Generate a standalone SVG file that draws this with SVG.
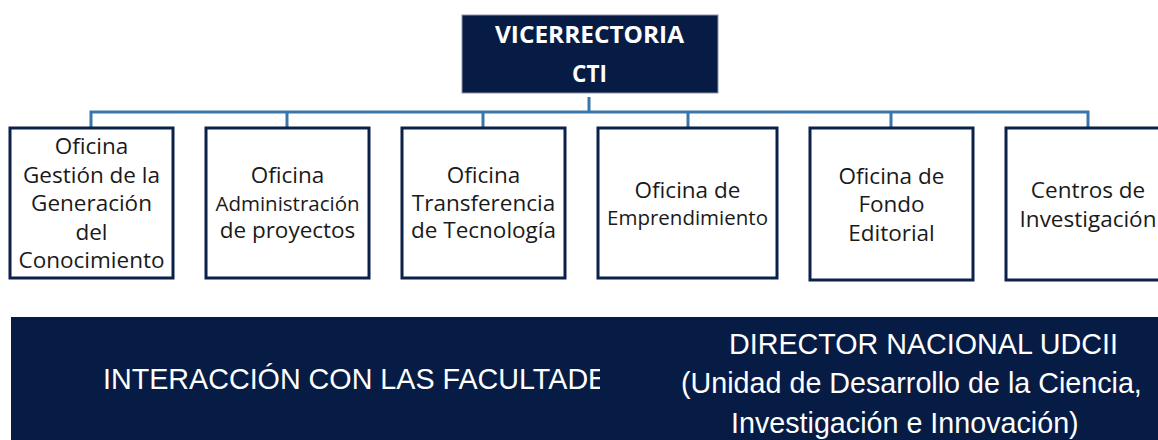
<svg xmlns="http://www.w3.org/2000/svg" width="1158" height="440" viewBox="0 0 1158 440">
<style>
.box{fill:#ffffff;stroke:#0b2149;stroke-width:3}
.t{font-family:"Open Sans","Noto Sans",sans-serif;font-size:22.5px;fill:#1a1a1a;text-anchor:middle}
.s{font-size:20.5px}
.hd{font-family:"Open Sans","Noto Sans",sans-serif;font-weight:bold;font-size:22.5px;fill:#ffffff;text-anchor:middle}
.b{font-family:"Liberation Sans",Arial,sans-serif;font-size:28.7px;fill:#ffffff}
.c{fill:none;stroke:#3a76ab;stroke-width:3}
</style>
<defs>
<clipPath id="clipL"><rect x="0" y="300" width="600" height="140"/></clipPath>
</defs>
<rect width="1158" height="440" fill="#ffffff"/>
<g id="connectors">
<path class="c" d="M589 97V112M91 128V112H1088V128M287 112V128M483 112V128M688 112V128M891 112V128"/>
</g>
<g id="vicerrectoria">
<rect x="462" y="15" width="256" height="78" fill="#061c45" stroke="#8a93a8" stroke-width="1"/>
<text class="hd" x="589.5" y="43" textLength="189" lengthAdjust="spacingAndGlyphs">VICERRECTORIA</text>
<text class="hd" x="589.5" y="82">CTI</text>
</g>
<g id="gestion">
<rect class="box" x="10" y="128" width="163" height="150"/>
<text class="t" x="91.5" y="154">Oficina</text>
<text class="t" x="91.5" y="183">Gestión de la</text>
<text class="t" x="91.5" y="211">Generación</text>
<text class="t" x="91.5" y="240">del</text>
<text class="t" x="91.5" y="268">Conocimiento</text>
</g>
<g id="administracion">
<rect class="box" x="206" y="128" width="163" height="150"/>
<text class="t" x="287.5" y="183">Oficina</text>
<text class="t s" x="287.5" y="211">Administración</text>
<text class="t" x="287.5" y="238">de proyectos</text>
</g>
<g id="transferencia">
<rect class="box" x="402" y="128" width="163" height="150"/>
<text class="t" x="483.5" y="183">Oficina</text>
<text class="t" x="483.5" y="211">Transferencia</text>
<text class="t" x="483.5" y="238">de Tecnología</text>
</g>
<g id="emprendimiento">
<rect class="box" x="598" y="128" width="179" height="150"/>
<text class="t" x="687.5" y="198">Oficina de</text>
<text class="t s" x="687.5" y="225">Emprendimiento</text>
</g>
<g id="editorial">
<rect class="box" x="810" y="128" width="163" height="152"/>
<text class="t" x="891.5" y="184">Oficina de</text>
<text class="t" x="891.5" y="212">Fondo</text>
<text class="t" x="891.5" y="241">Editorial</text>
</g>
<g id="centros">
<rect class="box" x="1006" y="128" width="170" height="152"/>
<text class="t" x="1088" y="198">Centros de</text>
<text class="t" x="1088" y="227">Investigación</text>
</g>
<g id="banner">
<rect x="11" y="317" width="1160" height="130" fill="#061c45"/>
<text class="b" x="103" y="389" clip-path="url(#clipL)">INTERACCIÓN CON LAS FACULTADE</text>
<text class="b" x="729" y="354">DIRECTOR NACIONAL UDCII</text>
<text class="b" x="681" y="393">(Unidad de Desarrollo de la Ciencia,</text>
<text class="b" x="731" y="433">Investigación e Innovación)</text>
</g>
</svg>
